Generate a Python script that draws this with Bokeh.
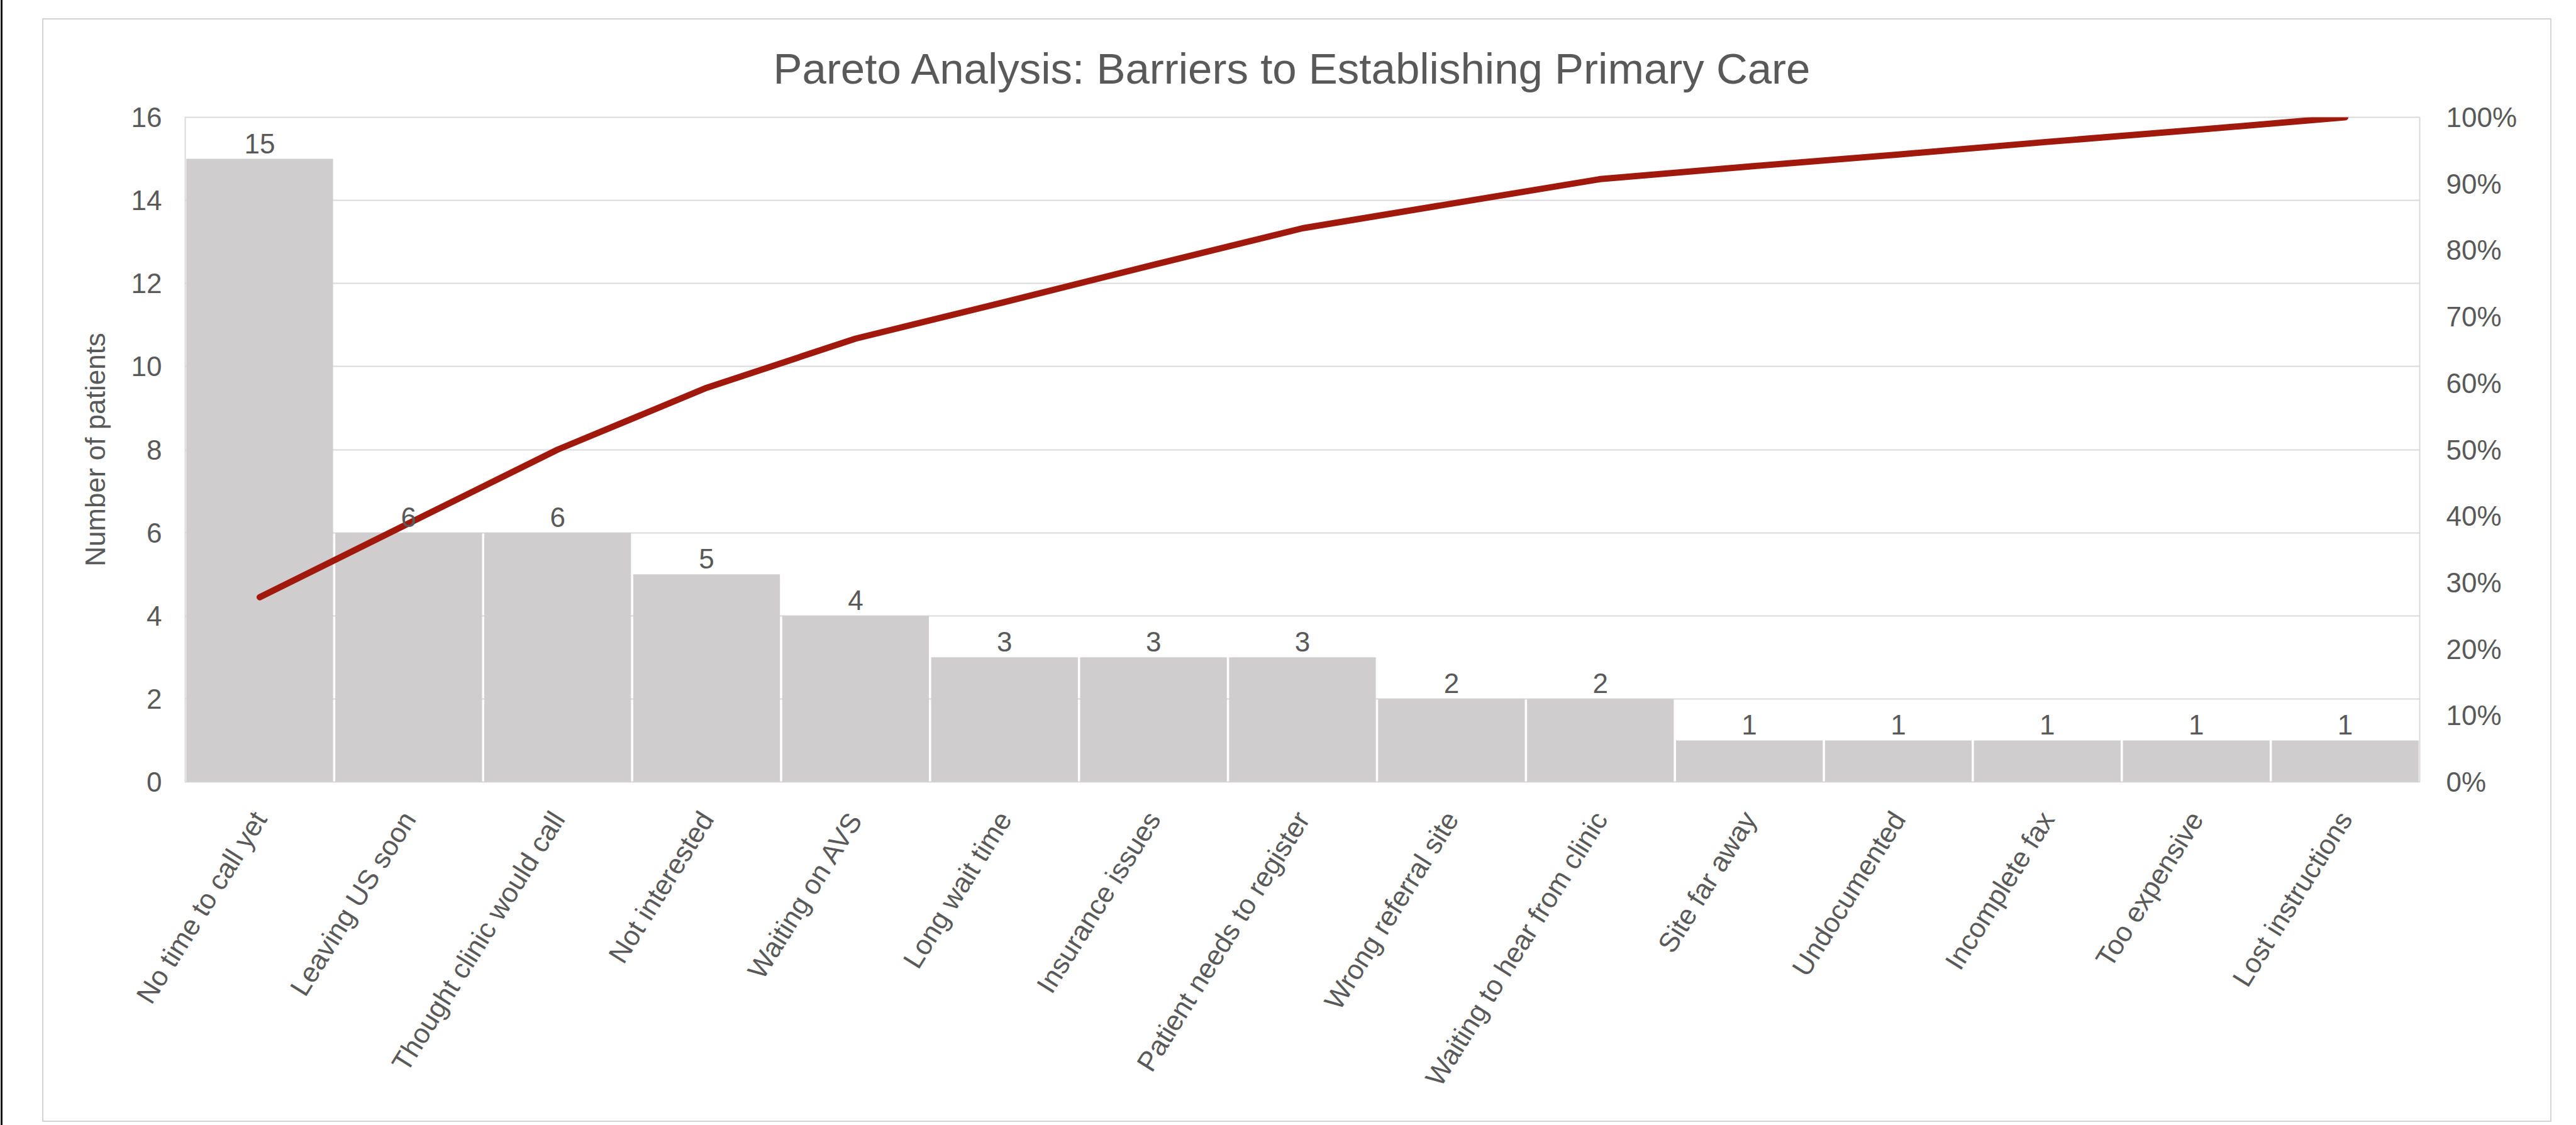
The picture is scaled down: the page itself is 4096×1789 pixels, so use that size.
import math
from bokeh.plotting import figure
from bokeh.models import (ColumnDataSource, FactorRange, Range1d, LinearAxis, FixedTicker,
                          NumeralTickFormatter, LabelSet)
from bokeh.core.properties import value
from bokeh.embed import file_html
from bokeh.resources import INLINE

# ---------------- data ----------------
categories = ["No time to call yet", "Leaving US soon", "Thought clinic would call",
              "Not interested", "Waiting on AVS", "Long wait time", "Insurance issues",
              "Patient needs to register", "Wrong referral site", "Waiting to hear from clinic",
              "Site far away", "Undocumented", "Incomplete fax", "Too expensive",
              "Lost instructions"]
counts = [15, 6, 6, 5, 4, 3, 3, 3, 2, 2, 1, 1, 1, 1, 1]
cumulative_pct = [0.278, 0.389, 0.500, 0.593, 0.667, 0.722, 0.778, 0.833, 0.870,
                  0.907, 0.926, 0.944, 0.963, 0.981, 1.000]
count_ticks = [0, 2, 4, 6, 8, 10, 12, 14, 16]
pct_ticks = [0.0, 0.1, 0.2, 0.3, 0.4, 0.5, 0.6, 0.7, 0.8, 0.9, 1.0]
title_text = "Pareto Analysis: Barriers to Establishing Primary Care"
y_title = "Number of patients"

# ---------------- layout (reference px * S) ----------------
S = 0.923
W, H = 4096, 1789
FL, FR, FT, FB = 318 * S, 4168 * S, 202 * S, 1347 * S   # plot frame edges
FONT = "Liberation Sans"
TXT = "#595959"

src = ColumnDataSource(dict(cat=categories, count=counts,
                            label=[str(c) for c in counts], cum=cumulative_pct))

p = figure(width=W, height=H, x_range=FactorRange(*categories), y_range=Range1d(0, 16),
           output_backend="svg", toolbar_location=None,
           min_border_left=round(FL), min_border_right=round(W - FR),
           min_border_top=round(FT), min_border_bottom=round(H - FB))
p.extra_y_ranges = {"pct": Range1d(0, 1)}
p.background_fill_color = "white"
p.border_fill_color = None
p.outline_line_color = "#D9D9D9"
p.outline_line_width = 2

# chart-area frame (grey) and the black left edge, drawn behind the transparent border
cl, ct, cr, cb = round(73 * S), round(31 * S), round(4393 * S), round(1931 * S)
g = "linear-gradient(#D4D4D4,#D4D4D4)"
k = "linear-gradient(#111111,#111111)"
p.styles = {
    "background-color": "white",
    "background-image": ", ".join([k, g, g, g, g]),
    "background-size": ", ".join([f"3px {H}px", f"2px {cb - ct}px", f"2px {cb - ct}px",
                                  f"{cr - cl + 2}px 2px", f"{cr - cl + 2}px 2px"]),
    "background-position": ", ".join(["1px 0px", f"{cl}px {ct}px", f"{cr}px {ct}px",
                                      f"{cl}px {ct}px", f"{cl}px {cb}px"]),
    "background-repeat": "no-repeat",
}

p.vbar(x="cat", top="count", width=0.985, source=src, fill_color="#CFCDCE", line_color=None)
p.line(x="cat", y="cum", source=src, y_range_name="pct", line_color="#A0190C",
       line_width=10, line_cap="round", line_join="round")

p.add_layout(LabelSet(x="cat", y="count", text="label", source=src, y_offset=9,
                      text_align="center", text_baseline="alphabetic",
                      text_font=value(FONT), text_font_size=value("44px"), text_color=TXT))

# title
p.title.text = title_text
p.title.align = "left"
p.title.offset = 935
p.title.standoff = 78
p.title.text_font = FONT
p.title.text_font_size = "69px"
p.title.text_font_style = "normal"
p.title.text_color = TXT

# grid
p.xgrid.visible = False
p.ygrid.ticker = FixedTicker(ticks=count_ticks)
p.ygrid.grid_line_color = "#D9D9D9"
p.ygrid.grid_line_width = 2

# left axis
ya = p.yaxis[0]
ya.ticker = FixedTicker(ticks=count_ticks)
ya.axis_label = y_title
ya.axis_line_color = None
ya.major_tick_line_color = None
ya.minor_tick_line_color = None
ya.major_label_standoff = 31
ya.major_label_text_font = FONT
ya.major_label_text_font_size = "44px"
ya.major_label_text_color = TXT
ya.axis_label_text_font = FONT
ya.axis_label_text_font_size = "44px"
ya.axis_label_text_font_style = "normal"
ya.axis_label_text_color = TXT
ya.axis_label_standoff = 30

# right axis
ra = LinearAxis(y_range_name="pct", ticker=FixedTicker(ticks=pct_ticks),
                formatter=NumeralTickFormatter(format="0%"))
ra.axis_line_color = None
ra.major_tick_line_color = None
ra.minor_tick_line_color = None
ra.major_label_standoff = 36
ra.major_label_text_font = FONT
ra.major_label_text_font_size = "44px"
ra.major_label_text_color = TXT
p.add_layout(ra, "right")

# bottom axis
xa = p.xaxis[0]
xa.axis_line_color = None
xa.major_tick_line_color = None
xa.minor_tick_line_color = None
xa.major_label_orientation = math.radians(58)
xa.major_label_standoff = 45
xa.major_label_text_font = FONT
xa.major_label_text_font_size = "44px"
xa.major_label_text_color = TXT

html = file_html(p, INLINE)
html = html.replace("</head>", "<style>html,body{margin:0;padding:0;overflow:hidden;}</style></head>", 1)
open("out.html", "w").write(html)
